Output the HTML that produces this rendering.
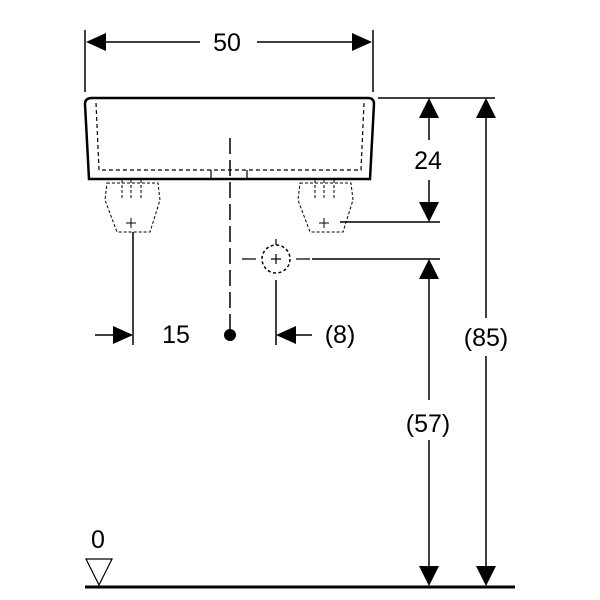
<!DOCTYPE html>
<html><head><style>body{margin:0;background:#fff}svg{display:block}</style></head>
<body>
<svg width="600" height="600" viewBox="0 0 600 600" xmlns="http://www.w3.org/2000/svg" font-family="Liberation Sans, sans-serif" font-size="25">
<g stroke="#000" stroke-width="1.5" fill="none">
<line x1="85" y1="30" x2="85" y2="92"/><line x1="373" y1="30" x2="373" y2="92"/>
<line x1="100" y1="42" x2="200" y2="42"/><line x1="257" y1="42" x2="360" y2="42"/>
<path d="M92,98 L368,98 Q374,98 374,104 L370,179 L89,179 L85,104 Q85,98 92,98 Z" stroke-width="2.5"/>
<path d="M96,103 L99,170 L361,170 L364,103" stroke-dasharray="4,3" stroke-width="1.2"/>
<path d="M211,179 L211,170 M247,179 L247,170" stroke-width="1.2"/>
<line x1="230" y1="138" x2="230" y2="330" stroke-dasharray="16,6"/>
<g stroke-width="1" stroke-dasharray="3,2">
<path d="M107,183 L158,183 L160,200 L150,232 L117,232 L105,200 Z"/>
<path d="M300,183 L351,183 L353,200 L343,232 L310,232 L298,200 Z"/>
<path d="M122,180 L122,200 M131,180 L131,200 M141,180 L141,200 M315,180 L315,200 M324,180 L324,200 M334,180 L334,200"/>
</g>
<g stroke-width="1"><path d="M126,223 h10 M131,218 v10 M319,223 h10 M324,218 v10"/></g>
<line x1="133" y1="232" x2="133" y2="345"/>
<line x1="340" y1="222" x2="440" y2="222"/>
<line x1="95" y1="335" x2="115" y2="335"/>
<line x1="276" y1="280" x2="276" y2="345"/>
<line x1="295" y1="335" x2="312" y2="335"/>
<circle cx="276" cy="259" r="14" stroke-dasharray="3,2.5"/>
<path d="M242,259 L256,259 M296,259 L310,259 M276,239 L276,245 M271,259 h10 M276,254 v10" stroke-width="1.2"/>
<line x1="312" y1="259" x2="440" y2="259"/>
<line x1="378" y1="98" x2="495" y2="98"/>
<line x1="429" y1="115" x2="429" y2="140"/><line x1="429" y1="180" x2="429" y2="205"/>
<line x1="429" y1="276" x2="429" y2="400"/><line x1="429" y1="440" x2="429" y2="570"/>
<line x1="486" y1="115" x2="486" y2="318"/><line x1="486" y1="356" x2="486" y2="570"/>
<line x1="85" y1="587" x2="515" y2="587" stroke-width="3"/>
<path d="M86,559 L112,559 L99,585 Z" stroke-width="1.2"/>
</g>
<g fill="#000">
<path d="M86,42 L106,33 L106,51 Z"/><path d="M372,42 L352,33 L352,51 Z"/>
<path d="M133,335 L113,326 L113,344 Z"/><path d="M276,335 L296,326 L296,344 Z"/>
<circle cx="230" cy="335" r="6"/>
<path d="M429,98 L419,118 L439,118 Z"/><path d="M429,222 L419,202 L439,202 Z"/>
<path d="M429,259 L419,279 L439,279 Z"/><path d="M429,586 L419,566 L439,566 Z"/>
<path d="M486,98 L476,118 L496,118 Z"/><path d="M486,586 L476,566 L496,566 Z"/>
<text x="227" y="51" text-anchor="middle">50</text>
<text x="428" y="169" text-anchor="middle">24</text>
<text x="176" y="343" text-anchor="middle">15</text>
<text x="340" y="343" text-anchor="middle">(8)</text>
<text x="486" y="346" text-anchor="middle">(85)</text>
<text x="428" y="432" text-anchor="middle">(57)</text>
<text x="98" y="548" text-anchor="middle">0</text>
</g>
</svg>
</body></html>
